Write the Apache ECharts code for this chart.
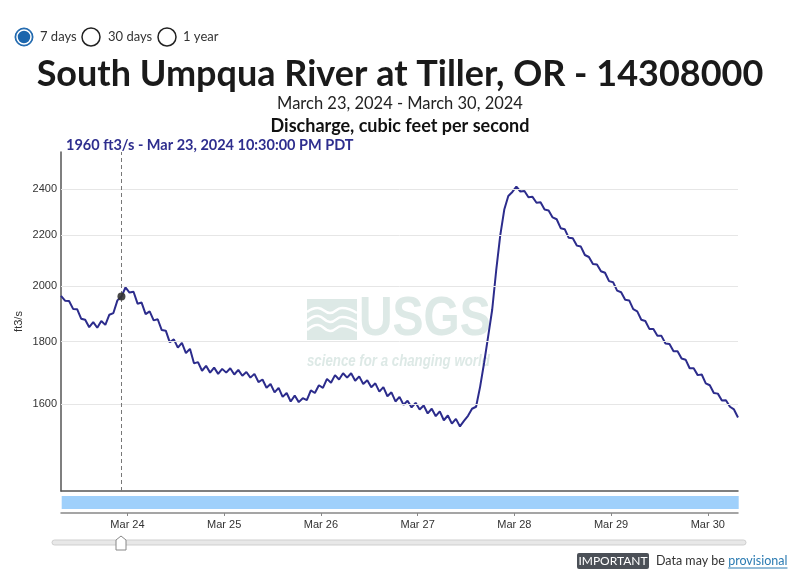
<!DOCTYPE html>
<html>
<head>
<meta charset="utf-8">
<script src="https://cdn.jsdelivr.net/npm/echarts@6/dist/echarts.min.js"></script>
<style>html,body{margin:0;padding:0;background:#fff;}#c{width:800px;height:580px;}</style>
</head>
<body>
<div id="c"></div>
<script>
// ---- Data (hourly readings, ft3/s), first reading Mar 23 2024 07:30 PDT ----
var startTime = [2024, 2, 23, 7, 30];
var stepHours = 1;
var flowMar23 = [1963, 1945, 1944, 1915, 1914, 1880, 1876, 1850, 1868, 1848, 1872, 1858, 1894, 1900, 1946, 1960, 1994];
var flowMar24 = [1975, 1978, 1934, 1938, 1896, 1906, 1874, 1878, 1840, 1838, 1798, 1808, 1780, 1796, 1762, 1776, 1728, 1732, 1704, 1720, 1698, 1714, 1694, 1710];
var flowMar25 = [1698, 1712, 1692, 1707, 1688, 1700, 1682, 1694, 1668, 1676, 1650, 1662, 1636, 1650, 1622, 1634, 1608, 1626, 1606, 1618, 1612, 1642, 1634, 1658];
var flowMar26 = [1650, 1678, 1666, 1690, 1676, 1696, 1682, 1696, 1672, 1686, 1662, 1674, 1652, 1664, 1638, 1652, 1624, 1636, 1608, 1622, 1598, 1610, 1590, 1604];
var flowMar27 = [1584, 1596, 1572, 1586, 1564, 1578, 1552, 1566, 1542, 1556, 1534, 1550, 1565, 1586, 1592, 1653, 1730, 1818, 1912, 2060, 2200, 2310, 2370, 2388];
var flowMar28 = [2412, 2390, 2392, 2364, 2366, 2340, 2342, 2310, 2306, 2276, 2268, 2230, 2226, 2190, 2188, 2158, 2154, 2120, 2112, 2084, 2082, 2056, 2050, 2018];
var flowMar29 = [2014, 1982, 1976, 1948, 1946, 1914, 1906, 1876, 1872, 1844, 1844, 1820, 1820, 1794, 1792, 1768, 1768, 1744, 1740, 1712, 1712, 1690, 1692, 1664];
var flowMar30 = [1658, 1634, 1632, 1611, 1612, 1592, 1584, 1560];
var yTicks = [1600, 1800, 2000, 2200, 2400];
var yMin = 1358, yMax = 2575;
var xMinStr = '2024-03-23 07:30', xMaxStr = '2024-03-30 07:30';
var tooltipTime = '2024-03-23 22:30';
var tooltipValue = 1960;
var monthNames = ['Jan','Feb','Mar','Apr','May','Jun','Jul','Aug','Sep','Oct','Nov','Dec'];

var flow = [].concat(flowMar23, flowMar24, flowMar25, flowMar26, flowMar27, flowMar28, flowMar29, flowMar30);
var t0 = new Date(startTime[0], startTime[1], startTime[2], startTime[3], startTime[4]).getTime();
var seriesData = flow.map(function (v, i) { return [t0 + i * stepHours * 3600000, v]; });
function parseLocal(s) {
  var p = s.split(/[- :]/).map(Number);
  return new Date(p[0], p[1] - 1, p[2], p[3], p[4]).getTime();
}
var xMin = parseLocal(xMinStr), xMax = parseLocal(xMaxStr), tipT = parseLocal(tooltipTime);

// text measuring for the footer link
var mctx = document.createElement('canvas').getContext('2d');
function textW(s, font) { mctx.font = font; return mctx.measureText(s).width; }
var footFont = '12.5px Lato';
var footLeft = 656;
var wLead = textW('Data may be ', footFont);
var wProv = textW('provisional', footFont);

var chart = echarts.init(document.getElementById('c'));
var lineColor = '#2c2c8c';
var logoColor = '#dde9e6';

var option = {
  animation: false,
  backgroundColor: '#fff',
  grid: { left: 61, top: 152, width: 677, height: 339 },
  xAxis: [
    {
      type: 'time', min: xMin, max: xMax,
      axisLine: { show: true, lineStyle: { color: '#555', width: 1.5 } },
      axisTick: { show: false }, axisLabel: { show: false }, splitLine: { show: false }
    },
    {
      type: 'time', min: xMin, max: xMax, position: 'bottom', offset: 22,
      minInterval: 86400000, maxInterval: 86400000,
      axisLine: { show: true, lineStyle: { color: '#888', width: 1.5 } },
      axisTick: { show: true, length: 3, lineStyle: { color: '#888' } },
      splitLine: { show: false },
      axisLabel: {
        showMinLabel: false, showMaxLabel: false,
        color: '#333', fontSize: 11, fontFamily: 'Liberation Sans, Arial', margin: 6,
        formatter: function (v) { var d = new Date(v); return monthNames[d.getMonth()] + ' ' + d.getDate(); }
      }
    }
  ],
  yAxis: {
    type: 'log', logBase: 10, min: yMin, max: yMax,
    name: 'ft3/s', nameLocation: 'middle', nameGap: 37,
    nameTextStyle: { color: '#333', fontSize: 11, fontFamily: 'Liberation Sans, Arial' },
    axisLine: { show: true, lineStyle: { color: '#555', width: 1.5 } },
    axisTick: { show: false }, axisLabel: { show: false }, splitLine: { show: false }
  },
  dataZoom: [{
    type: 'slider', xAxisIndex: [0, 1], filterMode: 'none', start: 0, end: 100,
    left: 61, width: 677, top: 496, height: 13,
    backgroundColor: 'rgba(0,0,0,0)', borderColor: 'rgba(0,0,0,0)',
    fillerColor: '#9fd0fb', showDetail: false, showDataShadow: false, brushSelect: false,
    handleSize: 0, handleStyle: { opacity: 0 }, moveHandleSize: 0, moveHandleStyle: { opacity: 0 },
    zoomLock: true, realtime: false
  }],
  series: [
    {
      name: 'gridlines', type: 'line', data: seriesData, z: 1, silent: true,
      symbol: 'none', lineStyle: { opacity: 0 },
      markLine: {
        silent: true, symbol: 'none', animation: false,
        lineStyle: { color: '#e6e6e6', width: 1, type: 'solid' },
        label: { position: 'start', distance: 4, color: '#333', fontSize: 11, fontFamily: 'Liberation Sans, Arial', formatter: function (p) { return String(p.value); } },
        data: yTicks.map(function (v) { return { yAxis: v }; })
      }
    },
    {
      name: 'Discharge', type: 'line', data: seriesData, z: 3,
      symbol: 'none', lineStyle: { color: lineColor, width: 2 },
      markLine: {
        silent: true, symbol: 'none', animation: false,
        lineStyle: { color: '#777', width: 1, type: [4, 3] },
        label: { show: false },
        data: [{ xAxis: tipT }]
      },
      markPoint: {
        silent: true, animation: false,
        symbol: 'circle', symbolSize: 8,
        itemStyle: { color: '#333', opacity: 0.9 },
        label: { show: false },
        data: [{ coord: [tipT, tooltipValue] }]
      }
    }
  ],
  graphic: [
    // radio buttons
    { type: 'circle', shape: { cx: 24, cy: 37, r: 9 }, style: { fill: '#1c66ad', stroke: '#1c66ad', lineWidth: 1 } },
    { type: 'circle', shape: { cx: 24, cy: 37, r: 7 }, style: { fill: 'none', stroke: '#fff', lineWidth: 1.5 } },
    { type: 'text', style: { text: '7 days', x: 40, y: 37, textVerticalAlign: 'middle', font: '13px Lato', fill: '#333' } },
    { type: 'circle', shape: { cx: 91, cy: 37, r: 9 }, style: { fill: '#fff', stroke: '#222', lineWidth: 1.5 } },
    { type: 'text', style: { text: '30 days', x: 108, y: 37, textVerticalAlign: 'middle', font: '13px Lato', fill: '#333' } },
    { type: 'circle', shape: { cx: 167, cy: 37, r: 9 }, style: { fill: '#fff', stroke: '#222', lineWidth: 1.5 } },
    { type: 'text', style: { text: '1 year', x: 183, y: 37, textVerticalAlign: 'middle', font: '13px Lato', fill: '#333' } },
    // titles
    { type: 'text', style: { text: 'South Umpqua River at Tiller, OR - 14308000', x: 400, y: 74, textAlign: 'center', textVerticalAlign: 'middle', font: 'bold 36px Lato', fill: '#1a1a1a' } },
    { type: 'text', style: { text: 'March 23, 2024 - March 30, 2024', x: 400, y: 104, textAlign: 'center', textVerticalAlign: 'middle', font: '16.5px Lato', fill: '#222' } },
    { type: 'text', style: { text: 'Discharge, cubic feet per second', x: 400, y: 126, textAlign: 'center', textVerticalAlign: 'middle', font: 'bold 18px Lato', fill: '#111' } },
    { type: 'text', style: { text: '1960 ft3/s - Mar 23, 2024 10:30:00 PM PDT', x: 66, y: 145, textVerticalAlign: 'middle', font: 'bold 14.5px Lato', fill: '#2e2e8e' } },
    // USGS watermark
    { type: 'group', z: 0, silent: true, children: [
      { type: 'rect', shape: { x: 307, y: 299, width: 50, height: 41 }, style: { fill: logoColor } },
      { type: 'polyline', shape: { points: [[307, 312], [318, 308], [330, 313], [342, 308], [357, 313]], smooth: 0.5 }, style: { stroke: '#fff', lineWidth: 2.5, fill: 'none' } },
      { type: 'polyline', shape: { points: [[307, 321], [318, 316], [330, 322], [342, 317], [357, 322]], smooth: 0.5 }, style: { stroke: '#fff', lineWidth: 2.5, fill: 'none' } },
      { type: 'polyline', shape: { points: [[307, 330], [318, 325], [330, 331], [342, 326], [357, 331]], smooth: 0.5 }, style: { stroke: '#fff', lineWidth: 2.5, fill: 'none' } },
      { type: 'text', x: 359, y: 320, scaleX: 0.83, style: { text: 'USGS', x: 0, y: 0, textVerticalAlign: 'middle', font: 'bold 56px Liberation Sans', fill: logoColor } },
      { type: 'text', x: 307, y: 361, scaleX: 0.78, style: { text: 'science for a changing world', x: 0, y: 0, textVerticalAlign: 'middle', font: 'italic bold 17px Liberation Sans', fill: logoColor } }
    ] },
    // bottom slider
    { type: 'rect', shape: { x: 52, y: 540, width: 694, height: 5, r: 2.5 }, style: { fill: '#e8e8e8', stroke: '#cfcfcf', lineWidth: 1 } },
    { type: 'polygon', shape: { points: [[121, 536], [126, 540], [126, 550], [116, 550], [116, 540]] }, style: { fill: '#fff', stroke: '#888', lineWidth: 1 } },
    // footer
    { type: 'rect', shape: { x: 577, y: 553, width: 72, height: 16, r: 2 }, style: { fill: '#4b5057' } },
    { type: 'text', style: { text: 'IMPORTANT', x: 613, y: 561.5, textAlign: 'center', textVerticalAlign: 'middle', font: '12px Lato', fill: '#fff' } },
    { type: 'text', style: { text: 'Data may be', x: footLeft, y: 561, textVerticalAlign: 'middle', font: footFont, fill: '#333' } },
    { type: 'text', style: { text: 'provisional', x: footLeft + wLead, y: 561, textVerticalAlign: 'middle', font: footFont, fill: '#2b7bb2' } },
    { type: 'line', shape: { x1: footLeft + wLead, y1: 568, x2: footLeft + wLead + wProv, y2: 568 }, style: { stroke: '#2b7bb2', lineWidth: 1 } }
  ]
};
chart.setOption(option);
</script>
</body>
</html>
